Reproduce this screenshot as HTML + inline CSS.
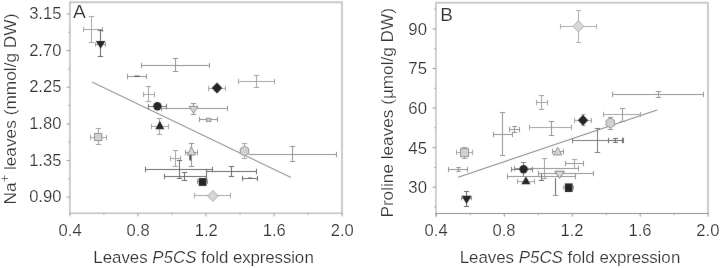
<!DOCTYPE html>
<html lang="en">
<head>
<meta charset="utf-8">
<title>Figure</title>
<style>
html,body{margin:0;padding:0;background:#fff;}
body{width:720px;height:268px;overflow:hidden;}
svg{display:block;font-family:"Liberation Sans",sans-serif;fill:#363636;}
</style>
</head>
<body>
<svg width="720" height="268" viewBox="0 0 720 268">
<defs><filter id="soft" x="0" y="0" width="720" height="268" filterUnits="userSpaceOnUse"><feConvolveMatrix order="3" kernelMatrix="1 5 1 5 76 5 1 5 1" divisor="100" edgeMode="none" preserveAlpha="false"/></filter></defs>
<rect x="0" y="0" width="720" height="268" fill="#ffffff"/>
<g filter="url(#soft)">
<polyline points="69.9,2.2 342.0,2.2 342.0,213.8" fill="none" stroke="#c9c9c9" stroke-width="1.9" stroke-linejoin="round"/>
<polyline points="69.9,1.3 69.9,213.2 342.9,213.2" fill="none" stroke="#c2c2c2" stroke-width="1.6"/>
<line x1="66.7" y1="14.0" x2="69.9" y2="14.0" stroke="#8c8c8c" stroke-width="0.9"/>
<line x1="68.1" y1="32.3" x2="69.9" y2="32.3" stroke="#a0a0a0" stroke-width="0.9"/>
<line x1="66.7" y1="50.6" x2="69.9" y2="50.6" stroke="#8c8c8c" stroke-width="0.9"/>
<line x1="68.1" y1="68.9" x2="69.9" y2="68.9" stroke="#a0a0a0" stroke-width="0.9"/>
<line x1="66.7" y1="87.2" x2="69.9" y2="87.2" stroke="#8c8c8c" stroke-width="0.9"/>
<line x1="68.1" y1="105.5" x2="69.9" y2="105.5" stroke="#a0a0a0" stroke-width="0.9"/>
<line x1="66.7" y1="123.9" x2="69.9" y2="123.9" stroke="#8c8c8c" stroke-width="0.9"/>
<line x1="68.1" y1="142.2" x2="69.9" y2="142.2" stroke="#a0a0a0" stroke-width="0.9"/>
<line x1="66.7" y1="160.5" x2="69.9" y2="160.5" stroke="#8c8c8c" stroke-width="0.9"/>
<line x1="68.1" y1="178.8" x2="69.9" y2="178.8" stroke="#a0a0a0" stroke-width="0.9"/>
<line x1="66.7" y1="197.1" x2="69.9" y2="197.1" stroke="#8c8c8c" stroke-width="0.9"/>
<line x1="69.9" y1="213.2" x2="69.9" y2="216.4" stroke="#8c8c8c" stroke-width="0.9"/>
<line x1="103.9" y1="213.2" x2="103.9" y2="215.0" stroke="#a0a0a0" stroke-width="0.9"/>
<line x1="137.9" y1="213.2" x2="137.9" y2="216.4" stroke="#8c8c8c" stroke-width="0.9"/>
<line x1="172.0" y1="213.2" x2="172.0" y2="215.0" stroke="#a0a0a0" stroke-width="0.9"/>
<line x1="206.0" y1="213.2" x2="206.0" y2="216.4" stroke="#8c8c8c" stroke-width="0.9"/>
<line x1="240.0" y1="213.2" x2="240.0" y2="215.0" stroke="#a0a0a0" stroke-width="0.9"/>
<line x1="274.0" y1="213.2" x2="274.0" y2="216.4" stroke="#8c8c8c" stroke-width="0.9"/>
<line x1="308.1" y1="213.2" x2="308.1" y2="215.0" stroke="#a0a0a0" stroke-width="0.9"/>
<line x1="342.1" y1="213.2" x2="342.1" y2="216.4" stroke="#8c8c8c" stroke-width="0.9"/>
<line x1="92.0" y1="82.0" x2="291.0" y2="177.5" stroke="#686868" stroke-width="0.85"/>
<line x1="83.5" y1="29.5" x2="102.5" y2="29.5" stroke="#a4a4a4" stroke-width="1.0"/>
<line x1="83.5" y1="26.8" x2="83.5" y2="32.2" stroke="#a4a4a4" stroke-width="1.0"/>
<line x1="102.5" y1="26.8" x2="102.5" y2="32.2" stroke="#a4a4a4" stroke-width="1.0"/>
<line x1="91.5" y1="16.5" x2="91.5" y2="42.5" stroke="#a4a4a4" stroke-width="1.0"/>
<line x1="88.8" y1="16.5" x2="94.2" y2="16.5" stroke="#a4a4a4" stroke-width="1.0"/>
<line x1="88.8" y1="42.5" x2="94.2" y2="42.5" stroke="#a4a4a4" stroke-width="1.0"/>
<line x1="100.5" y1="30.5" x2="100.5" y2="56.5" stroke="#686868" stroke-width="1.0"/>
<line x1="97.8" y1="30.5" x2="103.2" y2="30.5" stroke="#686868" stroke-width="1.0"/>
<line x1="97.8" y1="56.5" x2="103.2" y2="56.5" stroke="#686868" stroke-width="1.0"/>
<line x1="95.5" y1="44.5" x2="105.5" y2="44.5" stroke="#949494" stroke-width="1.0"/>
<line x1="95.5" y1="42.5" x2="95.5" y2="46.5" stroke="#949494" stroke-width="1.0"/>
<line x1="105.5" y1="42.5" x2="105.5" y2="46.5" stroke="#949494" stroke-width="1.0"/>
<polygon points="95.8,40.9 105.4,40.9 100.6,48.8" fill="#262626"/>
<line x1="141.5" y1="65.5" x2="209.5" y2="65.5" stroke="#949494" stroke-width="1.0"/>
<line x1="141.5" y1="62.8" x2="141.5" y2="68.2" stroke="#949494" stroke-width="1.0"/>
<line x1="209.5" y1="62.8" x2="209.5" y2="68.2" stroke="#949494" stroke-width="1.0"/>
<line x1="175.5" y1="58.5" x2="175.5" y2="71.5" stroke="#949494" stroke-width="1.0"/>
<line x1="172.8" y1="58.5" x2="178.2" y2="58.5" stroke="#949494" stroke-width="1.0"/>
<line x1="172.8" y1="71.5" x2="178.2" y2="71.5" stroke="#949494" stroke-width="1.0"/>
<line x1="127.5" y1="76.5" x2="146.5" y2="76.5" stroke="#949494" stroke-width="1.0"/>
<line x1="127.5" y1="73.8" x2="127.5" y2="79.2" stroke="#949494" stroke-width="1.0"/>
<line x1="146.5" y1="73.8" x2="146.5" y2="79.2" stroke="#949494" stroke-width="1.0"/>
<line x1="134.5" y1="76.3" x2="139.5" y2="76.3" stroke="#555" stroke-width="1.4"/>
<line x1="143.5" y1="94.5" x2="154.5" y2="94.5" stroke="#a4a4a4" stroke-width="1.0"/>
<line x1="143.5" y1="91.8" x2="143.5" y2="97.2" stroke="#a4a4a4" stroke-width="1.0"/>
<line x1="154.5" y1="91.8" x2="154.5" y2="97.2" stroke="#a4a4a4" stroke-width="1.0"/>
<line x1="148.5" y1="86.5" x2="148.5" y2="101.5" stroke="#a4a4a4" stroke-width="1.0"/>
<line x1="145.8" y1="86.5" x2="151.2" y2="86.5" stroke="#a4a4a4" stroke-width="1.0"/>
<line x1="145.8" y1="101.5" x2="151.2" y2="101.5" stroke="#a4a4a4" stroke-width="1.0"/>
<line x1="161.5" y1="108.5" x2="227.5" y2="108.5" stroke="#949494" stroke-width="1.0"/>
<line x1="161.5" y1="105.8" x2="161.5" y2="111.2" stroke="#949494" stroke-width="1.0"/>
<line x1="227.5" y1="105.8" x2="227.5" y2="111.2" stroke="#949494" stroke-width="1.0"/>
<line x1="193.5" y1="103.5" x2="193.5" y2="114.5" stroke="#949494" stroke-width="1.0"/>
<line x1="190.8" y1="103.5" x2="196.2" y2="103.5" stroke="#949494" stroke-width="1.0"/>
<line x1="190.8" y1="114.5" x2="196.2" y2="114.5" stroke="#949494" stroke-width="1.0"/>
<polygon points="189.2,106.3 198.0,106.3 193.6,113.4" fill="#d2d2d2" stroke="#8a8a8a" stroke-width="0.9"/>
<line x1="148.5" y1="106.5" x2="166.5" y2="106.5" stroke="#767676" stroke-width="1.0"/>
<line x1="148.5" y1="103.8" x2="148.5" y2="109.2" stroke="#767676" stroke-width="1.0"/>
<line x1="166.5" y1="103.8" x2="166.5" y2="109.2" stroke="#767676" stroke-width="1.0"/>
<circle cx="157.4" cy="106.3" r="4.2" fill="#262626"/>
<line x1="151.5" y1="126.5" x2="168.5" y2="126.5" stroke="#a4a4a4" stroke-width="1.0"/>
<line x1="151.5" y1="123.8" x2="151.5" y2="129.2" stroke="#a4a4a4" stroke-width="1.0"/>
<line x1="168.5" y1="123.8" x2="168.5" y2="129.2" stroke="#a4a4a4" stroke-width="1.0"/>
<line x1="159.5" y1="118.5" x2="159.5" y2="134.5" stroke="#a4a4a4" stroke-width="1.0"/>
<line x1="156.8" y1="118.5" x2="162.2" y2="118.5" stroke="#a4a4a4" stroke-width="1.0"/>
<line x1="156.8" y1="134.5" x2="162.2" y2="134.5" stroke="#a4a4a4" stroke-width="1.0"/>
<polygon points="159.8,120.8 164.3,129.2 155.3,129.2" fill="#262626"/>
<line x1="90.5" y1="137.5" x2="106.5" y2="137.5" stroke="#a4a4a4" stroke-width="1.0"/>
<line x1="90.5" y1="134.8" x2="90.5" y2="140.2" stroke="#a4a4a4" stroke-width="1.0"/>
<line x1="106.5" y1="134.8" x2="106.5" y2="140.2" stroke="#a4a4a4" stroke-width="1.0"/>
<line x1="98.5" y1="128.5" x2="98.5" y2="144.5" stroke="#a4a4a4" stroke-width="1.0"/>
<line x1="95.8" y1="128.5" x2="101.2" y2="128.5" stroke="#a4a4a4" stroke-width="1.0"/>
<line x1="95.8" y1="144.5" x2="101.2" y2="144.5" stroke="#a4a4a4" stroke-width="1.0"/>
<rect x="94.6" y="133.4" width="7.2" height="7.2" fill="#d2d2d2" stroke="#8a8a8a" stroke-width="0.9"/>
<line x1="208.5" y1="88.5" x2="225.5" y2="88.5" stroke="#a4a4a4" stroke-width="1.0"/>
<line x1="208.5" y1="85.8" x2="208.5" y2="91.2" stroke="#a4a4a4" stroke-width="1.0"/>
<line x1="225.5" y1="85.8" x2="225.5" y2="91.2" stroke="#a4a4a4" stroke-width="1.0"/>
<polygon points="217.0,82.5 222.3,88.0 217.0,93.5 211.7,88.0" fill="#262626"/>
<line x1="238.5" y1="81.5" x2="274.5" y2="81.5" stroke="#a4a4a4" stroke-width="1.0"/>
<line x1="238.5" y1="78.8" x2="238.5" y2="84.2" stroke="#a4a4a4" stroke-width="1.0"/>
<line x1="274.5" y1="78.8" x2="274.5" y2="84.2" stroke="#a4a4a4" stroke-width="1.0"/>
<line x1="256.5" y1="75.5" x2="256.5" y2="87.5" stroke="#a4a4a4" stroke-width="1.0"/>
<line x1="253.8" y1="75.5" x2="259.2" y2="75.5" stroke="#a4a4a4" stroke-width="1.0"/>
<line x1="253.8" y1="87.5" x2="259.2" y2="87.5" stroke="#a4a4a4" stroke-width="1.0"/>
<line x1="199.5" y1="119.5" x2="217.5" y2="119.5" stroke="#949494" stroke-width="1.0"/>
<line x1="199.5" y1="116.8" x2="199.5" y2="122.2" stroke="#949494" stroke-width="1.0"/>
<line x1="217.5" y1="116.8" x2="217.5" y2="122.2" stroke="#949494" stroke-width="1.0"/>
<rect x="206.4" y="118.2" width="4.4" height="3.4" fill="#d2d2d2" stroke="#8a8a8a" stroke-width="0.9"/>
<line x1="244.5" y1="143.5" x2="244.5" y2="158.5" stroke="#a4a4a4" stroke-width="1.0"/>
<line x1="241.8" y1="143.5" x2="247.2" y2="143.5" stroke="#a4a4a4" stroke-width="1.0"/>
<line x1="241.8" y1="158.5" x2="247.2" y2="158.5" stroke="#a4a4a4" stroke-width="1.0"/>
<line x1="248.5" y1="154.5" x2="336.5" y2="154.5" stroke="#949494" stroke-width="1.0"/>
<line x1="336.5" y1="151.8" x2="336.5" y2="157.2" stroke="#949494" stroke-width="1.0"/>
<line x1="292.5" y1="146.5" x2="292.5" y2="161.5" stroke="#949494" stroke-width="1.0"/>
<line x1="289.8" y1="146.5" x2="295.2" y2="146.5" stroke="#949494" stroke-width="1.0"/>
<line x1="289.8" y1="161.5" x2="295.2" y2="161.5" stroke="#949494" stroke-width="1.0"/>
<polygon points="244.5,146.1 248.7,148.6 248.7,153.4 244.5,155.9 240.3,153.4 240.3,148.6" fill="#d2d2d2" stroke="#8a8a8a" stroke-width="0.9"/>
<line x1="170.5" y1="158.5" x2="180.5" y2="158.5" stroke="#a4a4a4" stroke-width="1.0"/>
<line x1="170.5" y1="155.8" x2="170.5" y2="161.2" stroke="#a4a4a4" stroke-width="1.0"/>
<line x1="180.5" y1="155.8" x2="180.5" y2="161.2" stroke="#a4a4a4" stroke-width="1.0"/>
<line x1="175.5" y1="150.5" x2="175.5" y2="166.5" stroke="#a4a4a4" stroke-width="1.0"/>
<line x1="172.8" y1="150.5" x2="178.2" y2="150.5" stroke="#a4a4a4" stroke-width="1.0"/>
<line x1="172.8" y1="166.5" x2="178.2" y2="166.5" stroke="#a4a4a4" stroke-width="1.0"/>
<line x1="191.5" y1="143.5" x2="191.5" y2="166.5" stroke="#949494" stroke-width="1.0"/>
<line x1="188.8" y1="143.5" x2="194.2" y2="143.5" stroke="#949494" stroke-width="1.0"/>
<line x1="188.8" y1="166.5" x2="194.2" y2="166.5" stroke="#949494" stroke-width="1.0"/>
<line x1="185.5" y1="152.5" x2="197.5" y2="152.5" stroke="#949494" stroke-width="1.0"/>
<line x1="185.5" y1="149.8" x2="185.5" y2="155.2" stroke="#949494" stroke-width="1.0"/>
<line x1="197.5" y1="149.8" x2="197.5" y2="155.2" stroke="#949494" stroke-width="1.0"/>
<polygon points="191.4,146.9 195.5,155.0 187.3,155.0" fill="#d6d6d6" stroke="#848484" stroke-width="0.9"/>
<line x1="190.2" y1="155.0" x2="190.2" y2="160.5" stroke="#4a4a4a" stroke-width="1.8"/>
<line x1="145.5" y1="169.5" x2="212.5" y2="169.5" stroke="#6c6c6c" stroke-width="1.0"/>
<line x1="145.5" y1="166.8" x2="145.5" y2="172.2" stroke="#6c6c6c" stroke-width="1.0"/>
<line x1="212.5" y1="166.8" x2="212.5" y2="172.2" stroke="#6c6c6c" stroke-width="1.0"/>
<line x1="179.5" y1="160.5" x2="179.5" y2="178.5" stroke="#6c6c6c" stroke-width="1.0"/>
<line x1="176.8" y1="160.5" x2="182.2" y2="160.5" stroke="#6c6c6c" stroke-width="1.0"/>
<line x1="176.8" y1="178.5" x2="182.2" y2="178.5" stroke="#6c6c6c" stroke-width="1.0"/>
<line x1="206.5" y1="171.5" x2="256.5" y2="171.5" stroke="#6c6c6c" stroke-width="1.0"/>
<line x1="206.5" y1="168.8" x2="206.5" y2="174.2" stroke="#6c6c6c" stroke-width="1.0"/>
<line x1="256.5" y1="168.8" x2="256.5" y2="174.2" stroke="#6c6c6c" stroke-width="1.0"/>
<line x1="231.5" y1="166.5" x2="231.5" y2="176.5" stroke="#6c6c6c" stroke-width="1.0"/>
<line x1="228.8" y1="166.5" x2="234.2" y2="166.5" stroke="#6c6c6c" stroke-width="1.0"/>
<line x1="228.8" y1="176.5" x2="234.2" y2="176.5" stroke="#6c6c6c" stroke-width="1.0"/>
<line x1="164.5" y1="176.5" x2="206.5" y2="176.5" stroke="#6c6c6c" stroke-width="1.0"/>
<line x1="164.5" y1="173.8" x2="164.5" y2="179.2" stroke="#6c6c6c" stroke-width="1.0"/>
<line x1="206.5" y1="173.8" x2="206.5" y2="179.2" stroke="#6c6c6c" stroke-width="1.0"/>
<line x1="184.5" y1="172.5" x2="184.5" y2="180.5" stroke="#6c6c6c" stroke-width="1.0"/>
<line x1="181.8" y1="172.5" x2="187.2" y2="172.5" stroke="#6c6c6c" stroke-width="1.0"/>
<line x1="181.8" y1="180.5" x2="187.2" y2="180.5" stroke="#6c6c6c" stroke-width="1.0"/>
<line x1="197.5" y1="181.5" x2="207.5" y2="181.5" stroke="#949494" stroke-width="1.0"/>
<line x1="197.5" y1="179.0" x2="197.5" y2="184.0" stroke="#949494" stroke-width="1.0"/>
<line x1="207.5" y1="179.0" x2="207.5" y2="184.0" stroke="#949494" stroke-width="1.0"/>
<rect x="198.7" y="178.1" width="7.8" height="7.8" fill="#262626"/>
<line x1="242.5" y1="178.5" x2="257.5" y2="178.5" stroke="#6c6c6c" stroke-width="1.0"/>
<line x1="242.5" y1="175.8" x2="242.5" y2="181.2" stroke="#6c6c6c" stroke-width="1.0"/>
<line x1="257.5" y1="175.8" x2="257.5" y2="181.2" stroke="#6c6c6c" stroke-width="1.0"/>
<line x1="248.3" y1="178.2" x2="251.7" y2="178.2" stroke="#666" stroke-width="1.6"/>
<line x1="194.5" y1="195.5" x2="230.5" y2="195.5" stroke="#a8a8a8" stroke-width="1.0"/>
<line x1="194.5" y1="192.8" x2="194.5" y2="198.2" stroke="#a8a8a8" stroke-width="1.0"/>
<line x1="230.5" y1="192.8" x2="230.5" y2="198.2" stroke="#a8a8a8" stroke-width="1.0"/>
<polygon points="212.9,190.5 218.3,195.9 212.9,201.3 207.5,195.9" fill="#d8d8d8" stroke="#a0a0a0" stroke-width="0.9"/>
<polyline points="435.9,2.8 708.0,2.8 708.0,214.1" fill="none" stroke="#c9c9c9" stroke-width="1.9" stroke-linejoin="round"/>
<line x1="435.9" y1="1.9" x2="435.9" y2="216.5" stroke="#c6c6c6" stroke-width="1.6"/>
<line x1="435.3" y1="213.5" x2="708.6" y2="213.5" stroke="#909090" stroke-width="1.0"/>
<line x1="432.7" y1="28.9" x2="435.9" y2="28.9" stroke="#8c8c8c" stroke-width="0.9"/>
<line x1="434.1" y1="48.7" x2="435.9" y2="48.7" stroke="#a0a0a0" stroke-width="0.9"/>
<line x1="432.7" y1="68.5" x2="435.9" y2="68.5" stroke="#8c8c8c" stroke-width="0.9"/>
<line x1="434.1" y1="88.3" x2="435.9" y2="88.3" stroke="#a0a0a0" stroke-width="0.9"/>
<line x1="432.7" y1="108.1" x2="435.9" y2="108.1" stroke="#8c8c8c" stroke-width="0.9"/>
<line x1="434.1" y1="127.8" x2="435.9" y2="127.8" stroke="#a0a0a0" stroke-width="0.9"/>
<line x1="432.7" y1="147.6" x2="435.9" y2="147.6" stroke="#8c8c8c" stroke-width="0.9"/>
<line x1="434.1" y1="167.4" x2="435.9" y2="167.4" stroke="#a0a0a0" stroke-width="0.9"/>
<line x1="432.7" y1="187.2" x2="435.9" y2="187.2" stroke="#8c8c8c" stroke-width="0.9"/>
<line x1="434.1" y1="207.0" x2="435.9" y2="207.0" stroke="#a0a0a0" stroke-width="0.9"/>
<line x1="434.1" y1="9.1" x2="435.9" y2="9.1" stroke="#a0a0a0" stroke-width="0.9"/>
<line x1="436.4" y1="213.5" x2="436.4" y2="216.7" stroke="#8c8c8c" stroke-width="0.9"/>
<line x1="470.4" y1="213.5" x2="470.4" y2="215.3" stroke="#a0a0a0" stroke-width="0.9"/>
<line x1="504.3" y1="213.5" x2="504.3" y2="216.7" stroke="#8c8c8c" stroke-width="0.9"/>
<line x1="538.3" y1="213.5" x2="538.3" y2="215.3" stroke="#a0a0a0" stroke-width="0.9"/>
<line x1="572.3" y1="213.5" x2="572.3" y2="216.7" stroke="#8c8c8c" stroke-width="0.9"/>
<line x1="606.3" y1="213.5" x2="606.3" y2="215.3" stroke="#a0a0a0" stroke-width="0.9"/>
<line x1="640.2" y1="213.5" x2="640.2" y2="216.7" stroke="#8c8c8c" stroke-width="0.9"/>
<line x1="674.2" y1="213.5" x2="674.2" y2="215.3" stroke="#a0a0a0" stroke-width="0.9"/>
<line x1="708.2" y1="213.5" x2="708.2" y2="216.7" stroke="#8c8c8c" stroke-width="0.9"/>
<line x1="458.0" y1="177.3" x2="657.4" y2="109.9" stroke="#686868" stroke-width="0.85"/>
<line x1="560.5" y1="26.5" x2="596.5" y2="26.5" stroke="#adadad" stroke-width="1.0"/>
<line x1="560.5" y1="23.8" x2="560.5" y2="29.2" stroke="#adadad" stroke-width="1.0"/>
<line x1="596.5" y1="23.8" x2="596.5" y2="29.2" stroke="#adadad" stroke-width="1.0"/>
<line x1="578.5" y1="10.5" x2="578.5" y2="42.5" stroke="#adadad" stroke-width="1.0"/>
<line x1="575.8" y1="10.5" x2="581.2" y2="10.5" stroke="#adadad" stroke-width="1.0"/>
<line x1="575.8" y1="42.5" x2="581.2" y2="42.5" stroke="#adadad" stroke-width="1.0"/>
<polygon points="578.4,20.7 583.7,26.3 578.4,31.9 573.1,26.3" fill="#d8d8d8" stroke="#a0a0a0" stroke-width="0.9"/>
<line x1="612.5" y1="94.5" x2="703.5" y2="94.5" stroke="#949494" stroke-width="1.0"/>
<line x1="612.5" y1="91.8" x2="612.5" y2="97.2" stroke="#949494" stroke-width="1.0"/>
<line x1="703.5" y1="91.8" x2="703.5" y2="97.2" stroke="#949494" stroke-width="1.0"/>
<line x1="658.5" y1="91.5" x2="658.5" y2="97.5" stroke="#949494" stroke-width="1.0"/>
<line x1="655.8" y1="91.5" x2="661.2" y2="91.5" stroke="#949494" stroke-width="1.0"/>
<line x1="655.8" y1="97.5" x2="661.2" y2="97.5" stroke="#949494" stroke-width="1.0"/>
<line x1="536.5" y1="102.5" x2="547.5" y2="102.5" stroke="#a4a4a4" stroke-width="1.0"/>
<line x1="536.5" y1="99.8" x2="536.5" y2="105.2" stroke="#a4a4a4" stroke-width="1.0"/>
<line x1="547.5" y1="99.8" x2="547.5" y2="105.2" stroke="#a4a4a4" stroke-width="1.0"/>
<line x1="541.5" y1="95.5" x2="541.5" y2="109.5" stroke="#a4a4a4" stroke-width="1.0"/>
<line x1="538.8" y1="95.5" x2="544.2" y2="95.5" stroke="#a4a4a4" stroke-width="1.0"/>
<line x1="538.8" y1="109.5" x2="544.2" y2="109.5" stroke="#a4a4a4" stroke-width="1.0"/>
<line x1="502.5" y1="112.5" x2="502.5" y2="155.5" stroke="#949494" stroke-width="1.0"/>
<line x1="499.8" y1="112.5" x2="505.2" y2="112.5" stroke="#949494" stroke-width="1.0"/>
<line x1="499.8" y1="155.5" x2="505.2" y2="155.5" stroke="#949494" stroke-width="1.0"/>
<line x1="493.5" y1="134.5" x2="512.5" y2="134.5" stroke="#949494" stroke-width="1.0"/>
<line x1="493.5" y1="131.8" x2="493.5" y2="137.2" stroke="#949494" stroke-width="1.0"/>
<line x1="512.5" y1="131.8" x2="512.5" y2="137.2" stroke="#949494" stroke-width="1.0"/>
<line x1="509.5" y1="129.5" x2="519.5" y2="129.5" stroke="#949494" stroke-width="1.0"/>
<line x1="509.5" y1="126.8" x2="509.5" y2="132.2" stroke="#949494" stroke-width="1.0"/>
<line x1="519.5" y1="126.8" x2="519.5" y2="132.2" stroke="#949494" stroke-width="1.0"/>
<line x1="514.5" y1="126.5" x2="514.5" y2="132.5" stroke="#949494" stroke-width="1.0"/>
<line x1="511.8" y1="126.5" x2="517.2" y2="126.5" stroke="#949494" stroke-width="1.0"/>
<line x1="511.8" y1="132.5" x2="517.2" y2="132.5" stroke="#949494" stroke-width="1.0"/>
<line x1="529.5" y1="127.5" x2="571.5" y2="127.5" stroke="#a4a4a4" stroke-width="1.0"/>
<line x1="529.5" y1="124.8" x2="529.5" y2="130.2" stroke="#a4a4a4" stroke-width="1.0"/>
<line x1="571.5" y1="124.8" x2="571.5" y2="130.2" stroke="#a4a4a4" stroke-width="1.0"/>
<line x1="551.5" y1="121.5" x2="551.5" y2="135.5" stroke="#949494" stroke-width="1.0"/>
<line x1="548.8" y1="121.5" x2="554.2" y2="121.5" stroke="#949494" stroke-width="1.0"/>
<line x1="548.8" y1="135.5" x2="554.2" y2="135.5" stroke="#949494" stroke-width="1.0"/>
<line x1="574.5" y1="120.5" x2="591.5" y2="120.5" stroke="#a4a4a4" stroke-width="1.0"/>
<line x1="574.5" y1="117.8" x2="574.5" y2="123.2" stroke="#a4a4a4" stroke-width="1.0"/>
<line x1="591.5" y1="117.8" x2="591.5" y2="123.2" stroke="#a4a4a4" stroke-width="1.0"/>
<line x1="583.5" y1="114.5" x2="583.5" y2="125.5" stroke="#a4a4a4" stroke-width="1.0"/>
<line x1="581.5" y1="114.5" x2="585.5" y2="114.5" stroke="#a4a4a4" stroke-width="1.0"/>
<line x1="581.5" y1="125.5" x2="585.5" y2="125.5" stroke="#a4a4a4" stroke-width="1.0"/>
<polygon points="583.0,114.7 588.2,120.2 583.0,125.7 577.8,120.2" fill="#262626"/>
<line x1="603.5" y1="114.5" x2="640.5" y2="114.5" stroke="#a4a4a4" stroke-width="1.0"/>
<line x1="603.5" y1="111.8" x2="603.5" y2="117.2" stroke="#a4a4a4" stroke-width="1.0"/>
<line x1="640.5" y1="111.8" x2="640.5" y2="117.2" stroke="#a4a4a4" stroke-width="1.0"/>
<line x1="622.5" y1="108.5" x2="622.5" y2="121.5" stroke="#949494" stroke-width="1.0"/>
<line x1="619.8" y1="108.5" x2="625.2" y2="108.5" stroke="#949494" stroke-width="1.0"/>
<line x1="619.8" y1="121.5" x2="625.2" y2="121.5" stroke="#949494" stroke-width="1.0"/>
<line x1="610.5" y1="117.5" x2="610.5" y2="129.5" stroke="#949494" stroke-width="1.0"/>
<line x1="607.8" y1="117.5" x2="613.2" y2="117.5" stroke="#949494" stroke-width="1.0"/>
<line x1="607.8" y1="129.5" x2="613.2" y2="129.5" stroke="#949494" stroke-width="1.0"/>
<polygon points="610.3,118.1 614.5,120.5 614.5,125.5 610.3,127.9 606.1,125.5 606.1,120.5" fill="#d2d2d2" stroke="#8a8a8a" stroke-width="0.9"/>
<line x1="572.5" y1="140.5" x2="623.5" y2="140.5" stroke="#7c7c7c" stroke-width="1.0"/>
<line x1="572.5" y1="137.8" x2="572.5" y2="143.2" stroke="#7c7c7c" stroke-width="1.0"/>
<line x1="623.5" y1="137.8" x2="623.5" y2="143.2" stroke="#7c7c7c" stroke-width="1.0"/>
<line x1="597.5" y1="128.5" x2="597.5" y2="152.5" stroke="#7c7c7c" stroke-width="1.0"/>
<line x1="594.8" y1="128.5" x2="600.2" y2="128.5" stroke="#7c7c7c" stroke-width="1.0"/>
<line x1="594.8" y1="152.5" x2="600.2" y2="152.5" stroke="#7c7c7c" stroke-width="1.0"/>
<line x1="608.5" y1="140.5" x2="622.5" y2="140.5" stroke="#6c6c6c" stroke-width="1.0"/>
<line x1="608.5" y1="137.8" x2="608.5" y2="143.2" stroke="#6c6c6c" stroke-width="1.0"/>
<line x1="622.5" y1="137.8" x2="622.5" y2="143.2" stroke="#6c6c6c" stroke-width="1.0"/>
<line x1="615.5" y1="138.5" x2="615.5" y2="142.5" stroke="#6c6c6c" stroke-width="1.0"/>
<line x1="613.1" y1="138.5" x2="617.9" y2="138.5" stroke="#6c6c6c" stroke-width="1.0"/>
<line x1="613.1" y1="142.5" x2="617.9" y2="142.5" stroke="#6c6c6c" stroke-width="1.0"/>
<line x1="456.5" y1="152.5" x2="472.5" y2="152.5" stroke="#a4a4a4" stroke-width="1.0"/>
<line x1="456.5" y1="149.8" x2="456.5" y2="155.2" stroke="#a4a4a4" stroke-width="1.0"/>
<line x1="472.5" y1="149.8" x2="472.5" y2="155.2" stroke="#a4a4a4" stroke-width="1.0"/>
<line x1="464.5" y1="147.5" x2="464.5" y2="158.5" stroke="#a4a4a4" stroke-width="1.0"/>
<line x1="461.8" y1="147.5" x2="467.2" y2="147.5" stroke="#a4a4a4" stroke-width="1.0"/>
<line x1="461.8" y1="158.5" x2="467.2" y2="158.5" stroke="#a4a4a4" stroke-width="1.0"/>
<rect x="460.5" y="148.7" width="8.0" height="8.0" fill="#d2d2d2" stroke="#8a8a8a" stroke-width="0.9"/>
<line x1="448.5" y1="169.5" x2="467.5" y2="169.5" stroke="#949494" stroke-width="1.0"/>
<line x1="448.5" y1="166.8" x2="448.5" y2="172.2" stroke="#949494" stroke-width="1.0"/>
<line x1="467.5" y1="166.8" x2="467.5" y2="172.2" stroke="#949494" stroke-width="1.0"/>
<line x1="458.5" y1="167.5" x2="458.5" y2="171.5" stroke="#949494" stroke-width="1.0"/>
<line x1="456.3" y1="167.5" x2="460.7" y2="167.5" stroke="#949494" stroke-width="1.0"/>
<line x1="456.3" y1="171.5" x2="460.7" y2="171.5" stroke="#949494" stroke-width="1.0"/>
<line x1="552.5" y1="151.5" x2="563.5" y2="151.5" stroke="#949494" stroke-width="1.0"/>
<line x1="552.5" y1="148.8" x2="552.5" y2="154.2" stroke="#949494" stroke-width="1.0"/>
<line x1="563.5" y1="148.8" x2="563.5" y2="154.2" stroke="#949494" stroke-width="1.0"/>
<polygon points="557.7,147.2 561.9,155.0 553.5,155.0" fill="#d4d4d4" stroke="#8c8c8c" stroke-width="0.9"/>
<line x1="565.5" y1="163.5" x2="583.5" y2="163.5" stroke="#949494" stroke-width="1.0"/>
<line x1="565.5" y1="160.8" x2="565.5" y2="166.2" stroke="#949494" stroke-width="1.0"/>
<line x1="583.5" y1="160.8" x2="583.5" y2="166.2" stroke="#949494" stroke-width="1.0"/>
<line x1="574.5" y1="159.5" x2="574.5" y2="168.5" stroke="#a4a4a4" stroke-width="1.0"/>
<line x1="571.8" y1="159.5" x2="577.2" y2="159.5" stroke="#a4a4a4" stroke-width="1.0"/>
<line x1="571.8" y1="168.5" x2="577.2" y2="168.5" stroke="#a4a4a4" stroke-width="1.0"/>
<line x1="514.5" y1="168.5" x2="578.5" y2="168.5" stroke="#949494" stroke-width="1.0"/>
<line x1="514.5" y1="165.8" x2="514.5" y2="171.2" stroke="#949494" stroke-width="1.0"/>
<line x1="578.5" y1="165.8" x2="578.5" y2="171.2" stroke="#949494" stroke-width="1.0"/>
<line x1="544.5" y1="158.5" x2="544.5" y2="178.5" stroke="#a4a4a4" stroke-width="1.0"/>
<line x1="541.8" y1="158.5" x2="547.2" y2="158.5" stroke="#a4a4a4" stroke-width="1.0"/>
<line x1="541.8" y1="178.5" x2="547.2" y2="178.5" stroke="#a4a4a4" stroke-width="1.0"/>
<line x1="511.5" y1="169.5" x2="532.5" y2="169.5" stroke="#808080" stroke-width="1.0"/>
<line x1="511.5" y1="166.8" x2="511.5" y2="172.2" stroke="#808080" stroke-width="1.0"/>
<line x1="532.5" y1="166.8" x2="532.5" y2="172.2" stroke="#808080" stroke-width="1.0"/>
<line x1="523.5" y1="162.5" x2="523.5" y2="176.5" stroke="#808080" stroke-width="1.0"/>
<line x1="520.8" y1="162.5" x2="526.2" y2="162.5" stroke="#808080" stroke-width="1.0"/>
<line x1="520.8" y1="176.5" x2="526.2" y2="176.5" stroke="#808080" stroke-width="1.0"/>
<circle cx="523.6" cy="169.3" r="4.2" fill="#262626"/>
<line x1="507.5" y1="176.5" x2="575.5" y2="176.5" stroke="#949494" stroke-width="1.0"/>
<line x1="507.5" y1="173.8" x2="507.5" y2="179.2" stroke="#949494" stroke-width="1.0"/>
<line x1="575.5" y1="173.8" x2="575.5" y2="179.2" stroke="#949494" stroke-width="1.0"/>
<line x1="541.5" y1="173.5" x2="541.5" y2="180.5" stroke="#6c6c6c" stroke-width="1.0"/>
<line x1="538.8" y1="173.5" x2="544.2" y2="173.5" stroke="#6c6c6c" stroke-width="1.0"/>
<line x1="538.8" y1="180.5" x2="544.2" y2="180.5" stroke="#6c6c6c" stroke-width="1.0"/>
<line x1="538.5" y1="173.5" x2="593.5" y2="173.5" stroke="#949494" stroke-width="1.0"/>
<line x1="538.5" y1="170.8" x2="538.5" y2="176.2" stroke="#949494" stroke-width="1.0"/>
<line x1="593.5" y1="170.8" x2="593.5" y2="176.2" stroke="#949494" stroke-width="1.0"/>
<line x1="555.5" y1="178.0" x2="555.5" y2="195.2" stroke="#686868" stroke-width="1.0"/>
<line x1="552.8" y1="195.5" x2="558.4" y2="195.5" stroke="#949494" stroke-width="1.0"/>
<polygon points="554.9,171.2 564.3,171.2 559.6,178.4" fill="#dadada" stroke="#747474" stroke-width="0.9"/>
<line x1="517.5" y1="181.5" x2="534.5" y2="181.5" stroke="#a4a4a4" stroke-width="1.0"/>
<line x1="517.5" y1="178.8" x2="517.5" y2="184.2" stroke="#a4a4a4" stroke-width="1.0"/>
<line x1="534.5" y1="178.8" x2="534.5" y2="184.2" stroke="#a4a4a4" stroke-width="1.0"/>
<polygon points="525.9,176.5 530.5,184.2 521.3,184.2" fill="#262626"/>
<line x1="563.5" y1="187.5" x2="573.5" y2="187.5" stroke="#a4a4a4" stroke-width="1.0"/>
<line x1="563.5" y1="185.3" x2="563.5" y2="189.7" stroke="#a4a4a4" stroke-width="1.0"/>
<line x1="573.5" y1="185.3" x2="573.5" y2="189.7" stroke="#a4a4a4" stroke-width="1.0"/>
<rect x="564.9" y="183.4" width="7.7" height="8.6" fill="#262626"/>
<line x1="466.5" y1="191.5" x2="466.5" y2="206.5" stroke="#686868" stroke-width="1.0"/>
<line x1="463.9" y1="191.5" x2="469.1" y2="191.5" stroke="#686868" stroke-width="1.0"/>
<line x1="463.9" y1="206.5" x2="469.1" y2="206.5" stroke="#686868" stroke-width="1.0"/>
<line x1="461.5" y1="198.5" x2="471.5" y2="198.5" stroke="#949494" stroke-width="1.0"/>
<line x1="461.5" y1="196.7" x2="461.5" y2="200.3" stroke="#949494" stroke-width="1.0"/>
<line x1="471.5" y1="196.7" x2="471.5" y2="200.3" stroke="#949494" stroke-width="1.0"/>
<polygon points="461.5,195.8 471.7,195.8 466.6,204.1" fill="#262626"/>
</g>
<g stroke="#ffffff" stroke-width="0.18">
<text transform="translate(61.40,19.20) scale(1.005,1)" font-size="16.5" text-anchor="end">3.15</text>
<text transform="translate(61.40,55.82) scale(1.005,1)" font-size="16.5" text-anchor="end">2.70</text>
<text transform="translate(61.40,92.44) scale(1.005,1)" font-size="16.5" text-anchor="end">2.25</text>
<text transform="translate(61.40,129.06) scale(1.005,1)" font-size="16.5" text-anchor="end">1.80</text>
<text transform="translate(61.40,165.68) scale(1.005,1)" font-size="16.5" text-anchor="end">1.35</text>
<text transform="translate(61.40,202.30) scale(1.005,1)" font-size="16.5" text-anchor="end">0.90</text>
<text transform="translate(70.10,236.00)" font-size="16.6" text-anchor="middle">0.4</text>
<text transform="translate(138.15,236.00)" font-size="16.6" text-anchor="middle">0.8</text>
<text transform="translate(206.20,236.00)" font-size="16.6" text-anchor="middle">1.2</text>
<text transform="translate(274.25,236.00)" font-size="16.6" text-anchor="middle">1.6</text>
<text transform="translate(342.30,236.00)" font-size="16.6" text-anchor="middle">2.0</text>
<text transform="translate(72.90,18.00)" font-size="19.2" text-anchor="start">A</text>
<text transform="translate(203.60,263.30) scale(0.971,1)" font-size="17.4" text-anchor="middle">Leaves <tspan font-style="italic">P5CS</tspan> fold <tspan letter-spacing="-0.13">expressio</tspan><tspan dx="0.5">n</tspan></text>
<text transform="translate(15.90,204.60) rotate(-90)" font-size="17.3" text-anchor="start">Na</text>
<text transform="translate(8.60,178.50) rotate(-90)" font-size="13" text-anchor="middle">+</text>
<text transform="translate(15.90,13.60) rotate(-90)" font-size="17.3" text-anchor="end">leaves (mmol/g DW)</text>
<text transform="translate(427.00,34.90) scale(1.01,1)" font-size="16.6" text-anchor="end">90</text>
<text transform="translate(427.00,74.48) scale(1.01,1)" font-size="16.6" text-anchor="end">75</text>
<text transform="translate(427.00,114.06) scale(1.01,1)" font-size="16.6" text-anchor="end">60</text>
<text transform="translate(427.00,153.64) scale(1.01,1)" font-size="16.6" text-anchor="end">45</text>
<text transform="translate(427.00,193.22) scale(1.01,1)" font-size="16.6" text-anchor="end">30</text>
<text transform="translate(436.10,236.00)" font-size="16.6" text-anchor="middle">0.4</text>
<text transform="translate(504.05,236.00)" font-size="16.6" text-anchor="middle">0.8</text>
<text transform="translate(572.00,236.00)" font-size="16.6" text-anchor="middle">1.2</text>
<text transform="translate(639.95,236.00)" font-size="16.6" text-anchor="middle">1.6</text>
<text transform="translate(707.90,236.00)" font-size="16.6" text-anchor="middle">2.0</text>
<text transform="translate(440.30,20.80)" font-size="19" text-anchor="start">B</text>
<text transform="translate(570.00,263.30) scale(0.971,1)" font-size="17.4" text-anchor="middle">Leaves <tspan font-style="italic">P5CS</tspan> fold <tspan letter-spacing="-0.13">expressio</tspan><tspan dx="0.5">n</tspan></text>
<text transform="translate(393.00,112.80) rotate(-90)" font-size="17.2" text-anchor="middle">Proline leaves (µmol/g DW)</text>
</g>
</svg>
</body>
</html>
